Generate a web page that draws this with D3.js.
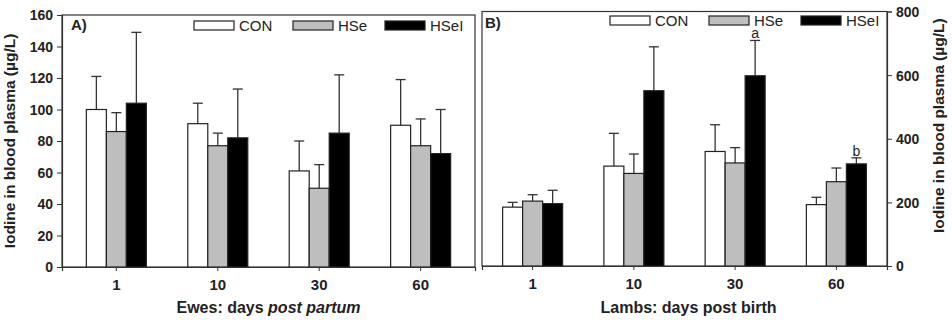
<!DOCTYPE html>
<html><head><meta charset="utf-8">
<script src="https://cdn.jsdelivr.net/npm/d3@7"></script>
<style>
body{margin:0;background:#fff;}
svg text{font-family:"Liberation Sans",Arial,sans-serif;fill:#222;}
</style></head>
<body><svg id="c" width="952" height="320"></svg>
<script>
const categories = ["1","10","30","60"];
const series = ["CON","HSe","HSeI"];
const colors = ["#ffffff","#bebebe","#000000"];
// Panel A: ewes
const ewesMean = {CON:[100,91,61,90], HSe:[86,77,50,77], HSeI:[104,82,85,72]};
const ewesErr  = {CON:[121,104,80,119], HSe:[98,85,65,94], HSeI:[149,113,122,100]};
const ewesTicks = [0,20,40,60,80,100,120,140,160];
// Panel B: lambs
const lambMean = {CON:[185,314,360,193], HSe:[204,291,324,265], HSeI:[196,551,598,321]};
const lambErr  = {CON:[200,417,444,216], HSe:[224,352,372,308], HSeI:[238,689,709,340]};
const lambTicks = [0,200,400,600,800];
const lambLetters = [{cat:"30", s:"HSeI", t:"a"},{cat:"60", s:"HSeI", t:"b"}];

const svg = d3.select("#c");

function panel(o){
  const g = svg.append("g");
  const x = d3.scaleBand().domain(categories).range([o.x0,o.x1]).paddingInner(0).paddingOuter(o.po);
  const xs = d3.scaleBand().domain(series).range([-30,30]);
  const y = d3.scaleLinear().domain([0,o.max]).range([o.y0,o.y1]);
  // frame
  g.append("rect").attr("x",o.x0).attr("y",o.y1).attr("width",o.x1-o.x0).attr("height",o.y0-o.y1)
    .attr("fill","none").attr("stroke","#333").attr("stroke-width",1.2);
  // bars
  series.forEach((s,si)=>{
    categories.forEach((c,ci)=>{
      const cx = x(c)+x.bandwidth()/2;
      const bx = cx+xs(s);
      const top = y(o.mean[s][ci]), et = y(o.err[s][ci]);
      const mid = bx+xs.bandwidth()/2;
      g.append("line").attr("x1",mid).attr("x2",mid).attr("y1",top).attr("y2",et).attr("stroke","#333").attr("stroke-width",1.3);
      g.append("line").attr("x1",mid-5).attr("x2",mid+5).attr("y1",et).attr("y2",et).attr("stroke","#333").attr("stroke-width",1.3);
      g.append("rect").attr("x",bx).attr("y",top).attr("width",xs.bandwidth()).attr("height",o.y0-top)
        .attr("fill",colors[si]).attr("stroke","#222").attr("stroke-width",1.2);
    });
  });
  // axes
  const ax = d3.axisBottom(x).tickSizeOuter(0).tickSize(4).tickPadding(8);
  const xg = g.append("g").attr("transform",`translate(0,${o.y0})`).call(ax);
  xg.select(".domain").attr("stroke","#333").attr("stroke-width",1.2);
  xg.selectAll(".tick line").attr("stroke","#333");
  xg.selectAll("text").attr("font-size",15).attr("font-weight","bold").attr("fill","#222").attr("font-family","Liberation Sans, Arial");
  const ay = (o.right? d3.axisRight(y) : d3.axisLeft(y)).tickValues(o.ticks).tickSizeOuter(0).tickSize(5).tickPadding(4);
  const yg = g.append("g").attr("transform",`translate(${o.right?o.x1:o.x0},0)`).call(ay);
  yg.select(".domain").attr("stroke","#333").attr("stroke-width",1.2);
  yg.selectAll(".tick line").attr("stroke","#333");
  yg.selectAll("text").attr("font-size",14).attr("font-weight","bold").attr("fill","#222").attr("font-family","Liberation Sans, Arial").attr("dy","0.35em");
  // titles
  g.append("text").attr("x",(o.x0+o.x1)/2+o.xtdx).attr("y",313).attr("text-anchor","middle")
    .attr("font-size",16).attr("font-weight","bold").html(o.xtitle);
  g.append("text").attr("transform",`translate(${o.ytx},${(o.y0+o.y1)/2+o.ytdy}) rotate(-90)`).attr("text-anchor","middle")
    .attr("font-size",15.5).attr("font-weight","bold").text("Iodine in blood plasma (µg/L)");
  // panel label
  g.append("text").attr("x",o.x0+o.lx).attr("y",o.ly).attr("font-size",15).attr("font-weight","bold").text(o.label);
  // legend
  series.forEach((s,si)=>{
    g.append("rect").attr("x",o.legX[si]).attr("y",o.legY).attr("width",40).attr("height",9)
      .attr("fill",colors[si]).attr("stroke","#222").attr("stroke-width",1.2);
    g.append("text").attr("x",o.legX[si]+45).attr("y",o.legY+10).attr("font-size",15).text(s);
  });
  // letters
  (o.letters||[]).forEach(l=>{
    const ci = categories.indexOf(l.cat);
    const cx = x(l.cat)+x.bandwidth()/2+xs(l.s)+xs.bandwidth()/2;
    g.append("text").attr("x",cx).attr("y",y(o.err[l.s][ci])-2).attr("text-anchor","middle").attr("font-size",14).text(l.t);
  });
}

panel({x0:62,x1:475,y0:267,y1:15,po:0.036,max:160,ticks:ewesTicks,mean:ewesMean,err:ewesErr,right:false,
  xtitle:'Ewes: days <tspan font-style="italic">post partum</tspan>',xtdx:0,ytx:15,ytdy:0,label:"A)",lx:9,ly:30,
  legX:[194,293,385],legY:21});
panel({x0:482,x1:887,y0:266,y1:11.5,po:0,max:800,ticks:lambTicks,mean:lambMean,err:lambErr,right:true,
  xtitle:'Lambs: days post birth',xtdx:4,ytx:944,ytdy:-13,label:"B)",lx:3,ly:28,
  legX:[610,709,801],legY:16,letters:lambLetters});
</script></body></html>
